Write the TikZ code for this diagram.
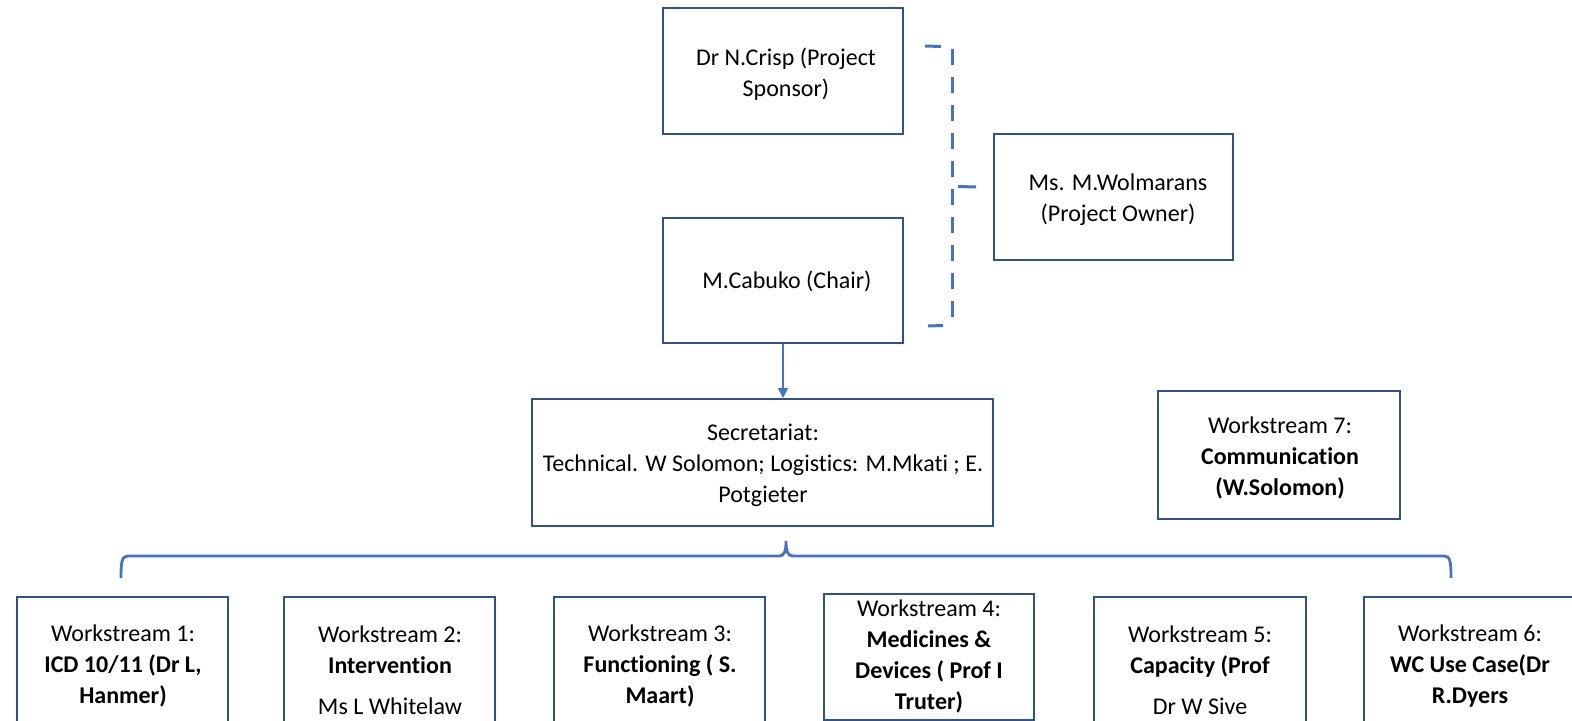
\documentclass[tikz,border=0pt]{standalone}
\usepackage{fontspec}
\setmainfont{Carlito}[Ligatures=NoCommon]
\usetikzlibrary{arrows.meta}
\definecolor{boxblue}{HTML}{2F528F}
\definecolor{accent}{HTML}{4472C4}
\begin{document}
\begin{tikzpicture}[x=0.5pt,y=-0.5pt,
  frame/.style={draw=boxblue, line width=1pt, inner sep=0pt},
  txt/.style={inner sep=0pt, align=center, font=\fontsize{12}{15.5}\selectfont},
  conn/.style={accent, line width=0.9pt},
  dbr/.style={accent, line width=1.5pt},
  brace/.style={accent, line width=1.4pt}]
\useasboundingbox (0,0) rectangle (1572,721);
\clip (0,0) rectangle (1572,721);
% frames
\node[frame, minimum width=120pt, minimum height=63pt] (crispF) at (783,71) {};
\node[frame, minimum width=120pt, minimum height=62.5pt] (cabF) at (783,280.5) {};
\node[frame, minimum width=119.5pt, minimum height=63pt] (ownerF) at (1113.5,197.5) {};
\node[frame, minimum width=230.5pt, minimum height=63.5pt] (secF) at (762.5,462.5) {};
\node[frame, minimum width=121pt, minimum height=64pt] (ws7F) at (1279,455) {};
\node[frame, minimum width=105.5pt, minimum height=70pt, anchor=north] (ws1F) at (122.5,596) {};
\node[frame, minimum width=105.5pt, minimum height=70pt, anchor=north] (ws2F) at (389.5,596) {};
\node[frame, minimum width=105.5pt, minimum height=70pt, anchor=north] (ws3F) at (659.5,596) {};
\node[frame, minimum width=105pt, minimum height=63pt, anchor=north] (ws4F) at (929,593) {};
\node[frame, minimum width=106pt, minimum height=70pt, anchor=north] (ws5F) at (1200,596) {};
\node[frame, minimum width=105.5pt, minimum height=70pt, anchor=north] (ws6F) at (1469.5,596) {};
% texts
\node[txt] (crisp) at (786,74) {Dr N.Crisp (Project\\Sponsor)};
\node[txt] (cab) at (787,281) {M.Cabuko (Chair)};
\node[txt] (owner) at (1118,200) {Ms. M.Wolmarans\\(Project Owner)};
\node[txt] (sec) at (763,465) {Secretariat:\\Technical. W Solomon; Logistics: M.Mkati ; E.\\Potgieter};
\node[txt] (ws7) at (1280,458) {Workstream 7:\\\textbf{Communication}\\\textbf{(W.Solomon)}};
\node[txt] (ws1) at (123,666) {Workstream 1:\\\textbf{ICD 10/11 (Dr L,}\\\textbf{Hanmer)}};
\node[txt] (ws2) at (390,670) {Workstream 2:\\\textbf{Intervention}\\[5pt]Ms L Whitelaw};
\node[txt] (ws3) at (660,666) {Workstream 3:\\\textbf{Functioning ( S.}\\\textbf{Maart)}};
\node[txt] (ws4) at (929,656) {Workstream 4:\\\textbf{Medicines \&}\\\textbf{Devices ( Prof I}\\\textbf{Truter)}};
\node[txt] (ws5) at (1200,670) {Workstream 5:\\\textbf{Capacity (Prof}\\[5pt]Dr W Sive};
\node[txt] (ws6) at (1470,666) {Workstream 6:\\\textbf{WC Use Case(Dr}\\\textbf{R.Dyers}};
% arrow chair -> secretariat
\draw[conn, -{Triangle[length=5pt,width=5pt]}] (cabF.south) -- (cabF.south |- secF.north);
% dashed bracket
\coordinate (bt1) at (925,46); \coordinate (bt2) at (941,46.5);
\coordinate (bv1) at (952,49); \coordinate (bv2) at (952,322);
\coordinate (bm1) at (958,186.5); \coordinate (bm2) at (976,187);
\coordinate (bb1) at (928,326); \coordinate (bb2) at (943,325.5);
\draw[dbr] (bt1) -- (bt2);
\draw[dbr, dash pattern=on 8pt off 6pt] (bv1) -- (bv2);
\draw[dbr] (bm1) -- (bm2);
\draw[dbr] (bb1) -- (bb2);
% brace over workstreams
\coordinate (bl) at (121,578); \coordinate (br) at (1451,578); \coordinate (bp) at (786,541);
\draw[brace] (bl) .. controls (121,561) and (122,556) .. (128,556) -- (779,556)
  .. controls (784,556) and (786,552) .. (bp)
  .. controls (786,552) and (788,556) .. (793,556) -- (1444,556)
  .. controls (1450,556) and (1451,561) .. (br);
\end{tikzpicture}
\end{document}
